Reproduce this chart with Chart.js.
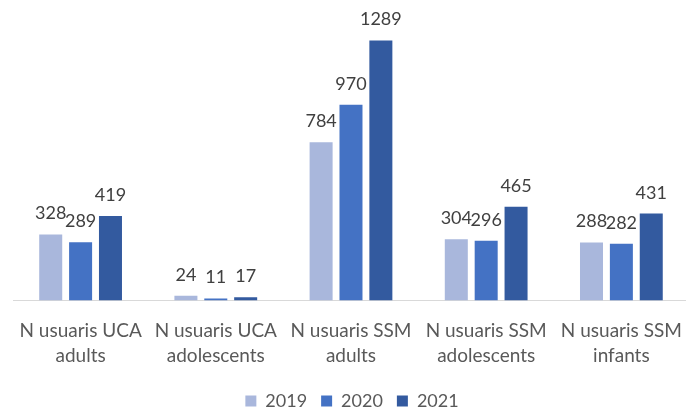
<!DOCTYPE html>
<html>
<head>
<meta charset="utf-8">
<script src="https://cdn.jsdelivr.net/npm/chart.js@4.4.1/dist/chart.umd.min.js"></script>
<style>
    html, body { margin: 0; padding: 0; background: #ffffff; overflow: hidden; }
    #wrap { width: 692px; height: 408px; position: relative; }
</style>
</head>
<body>
<div id="wrap"><canvas id="myChart"></canvas></div>
<script>
// categories (two lines each, like the original axis)
var categories = [
    ["N usuaris UCA", "adults"],
    ["N usuaris UCA", "adolescents"],
    ["N usuaris SSM", "adults"],
    ["N usuaris SSM", "adolescents"],
    ["N usuaris SSM", "infants"]
];
var seriesNames = ["2019", "2020", "2021"];
var values2019 = [328, 24, 784, 304, 288];
var values2020 = [289, 11, 970, 296, 282];
var values2021 = [419, 17, 1289, 465, 431];
var colors = ["#A9B7DC", "#4472C4", "#335A9F"];

// writes the value above each bar
var valueLabels = {
    id: 'valueLabels',
    afterDatasetsDraw: function (chart) {
        var ctx = chart.ctx;
        ctx.save();
        ctx.font = "18px Lato";
        ctx.fillStyle = "#404040";
        ctx.textAlign = "center";
        ctx.textBaseline = "alphabetic";
        chart.data.datasets.forEach(function (ds, i) {
            var meta = chart.getDatasetMeta(i);
            meta.data.forEach(function (bar, j) {
                ctx.fillText(ds.data[j], bar.x, bar.y - 15);
            });
        });
        ctx.restore();
    }
};

var mychart = null;
function drawChart() {
    var canvas = document.getElementById('myChart');
    var sets = [values2019, values2020, values2021];
    var datasets = [];
    for (var i = 0; i < sets.length; i++) {
        datasets.push({
            label: seriesNames[i],
            data: sets[i],
            backgroundColor: colors[i],
            borderWidth: 0,
            categoryPercentage: 0.663,
            barPercentage: 0.77
        });
    }
    mychart = new Chart(canvas, {
        type: 'bar',
        data: {
            labels: categories,
            datasets: datasets
        },
        options: {
            responsive: true,
            maintainAspectRatio: false,
            animation: false,
            layout: {
                padding: {left: 13, right: 1, top: 18, bottom: -12}
            },
            plugins: {
                tooltip: {enabled: false},
                legend: {
                    position: 'bottom',
                    labels: {
                        boxWidth: 11,
                        boxHeight: 11,
                        padding: 14,
                        color: "#595959",
                        font: {family: "Lato", size: 18}
                    }
                }
            },
            scales: {
                y: {
                    display: false,
                    min: 0,
                    max: 1400
                },
                x: {
                    grid: {display: false},
                    border: {color: "#D9D9D9", width: 1},
                    ticks: {
                        color: "#595959",
                        maxRotation: 0,
                        autoSkip: false,
                        padding: 10,
                        font: {family: "Lato", size: 19, lineHeight: 1.3}
                    }
                }
            }
        },
        plugins: [valueLabels]
    });
}
drawChart();
</script>
</body>
</html>
